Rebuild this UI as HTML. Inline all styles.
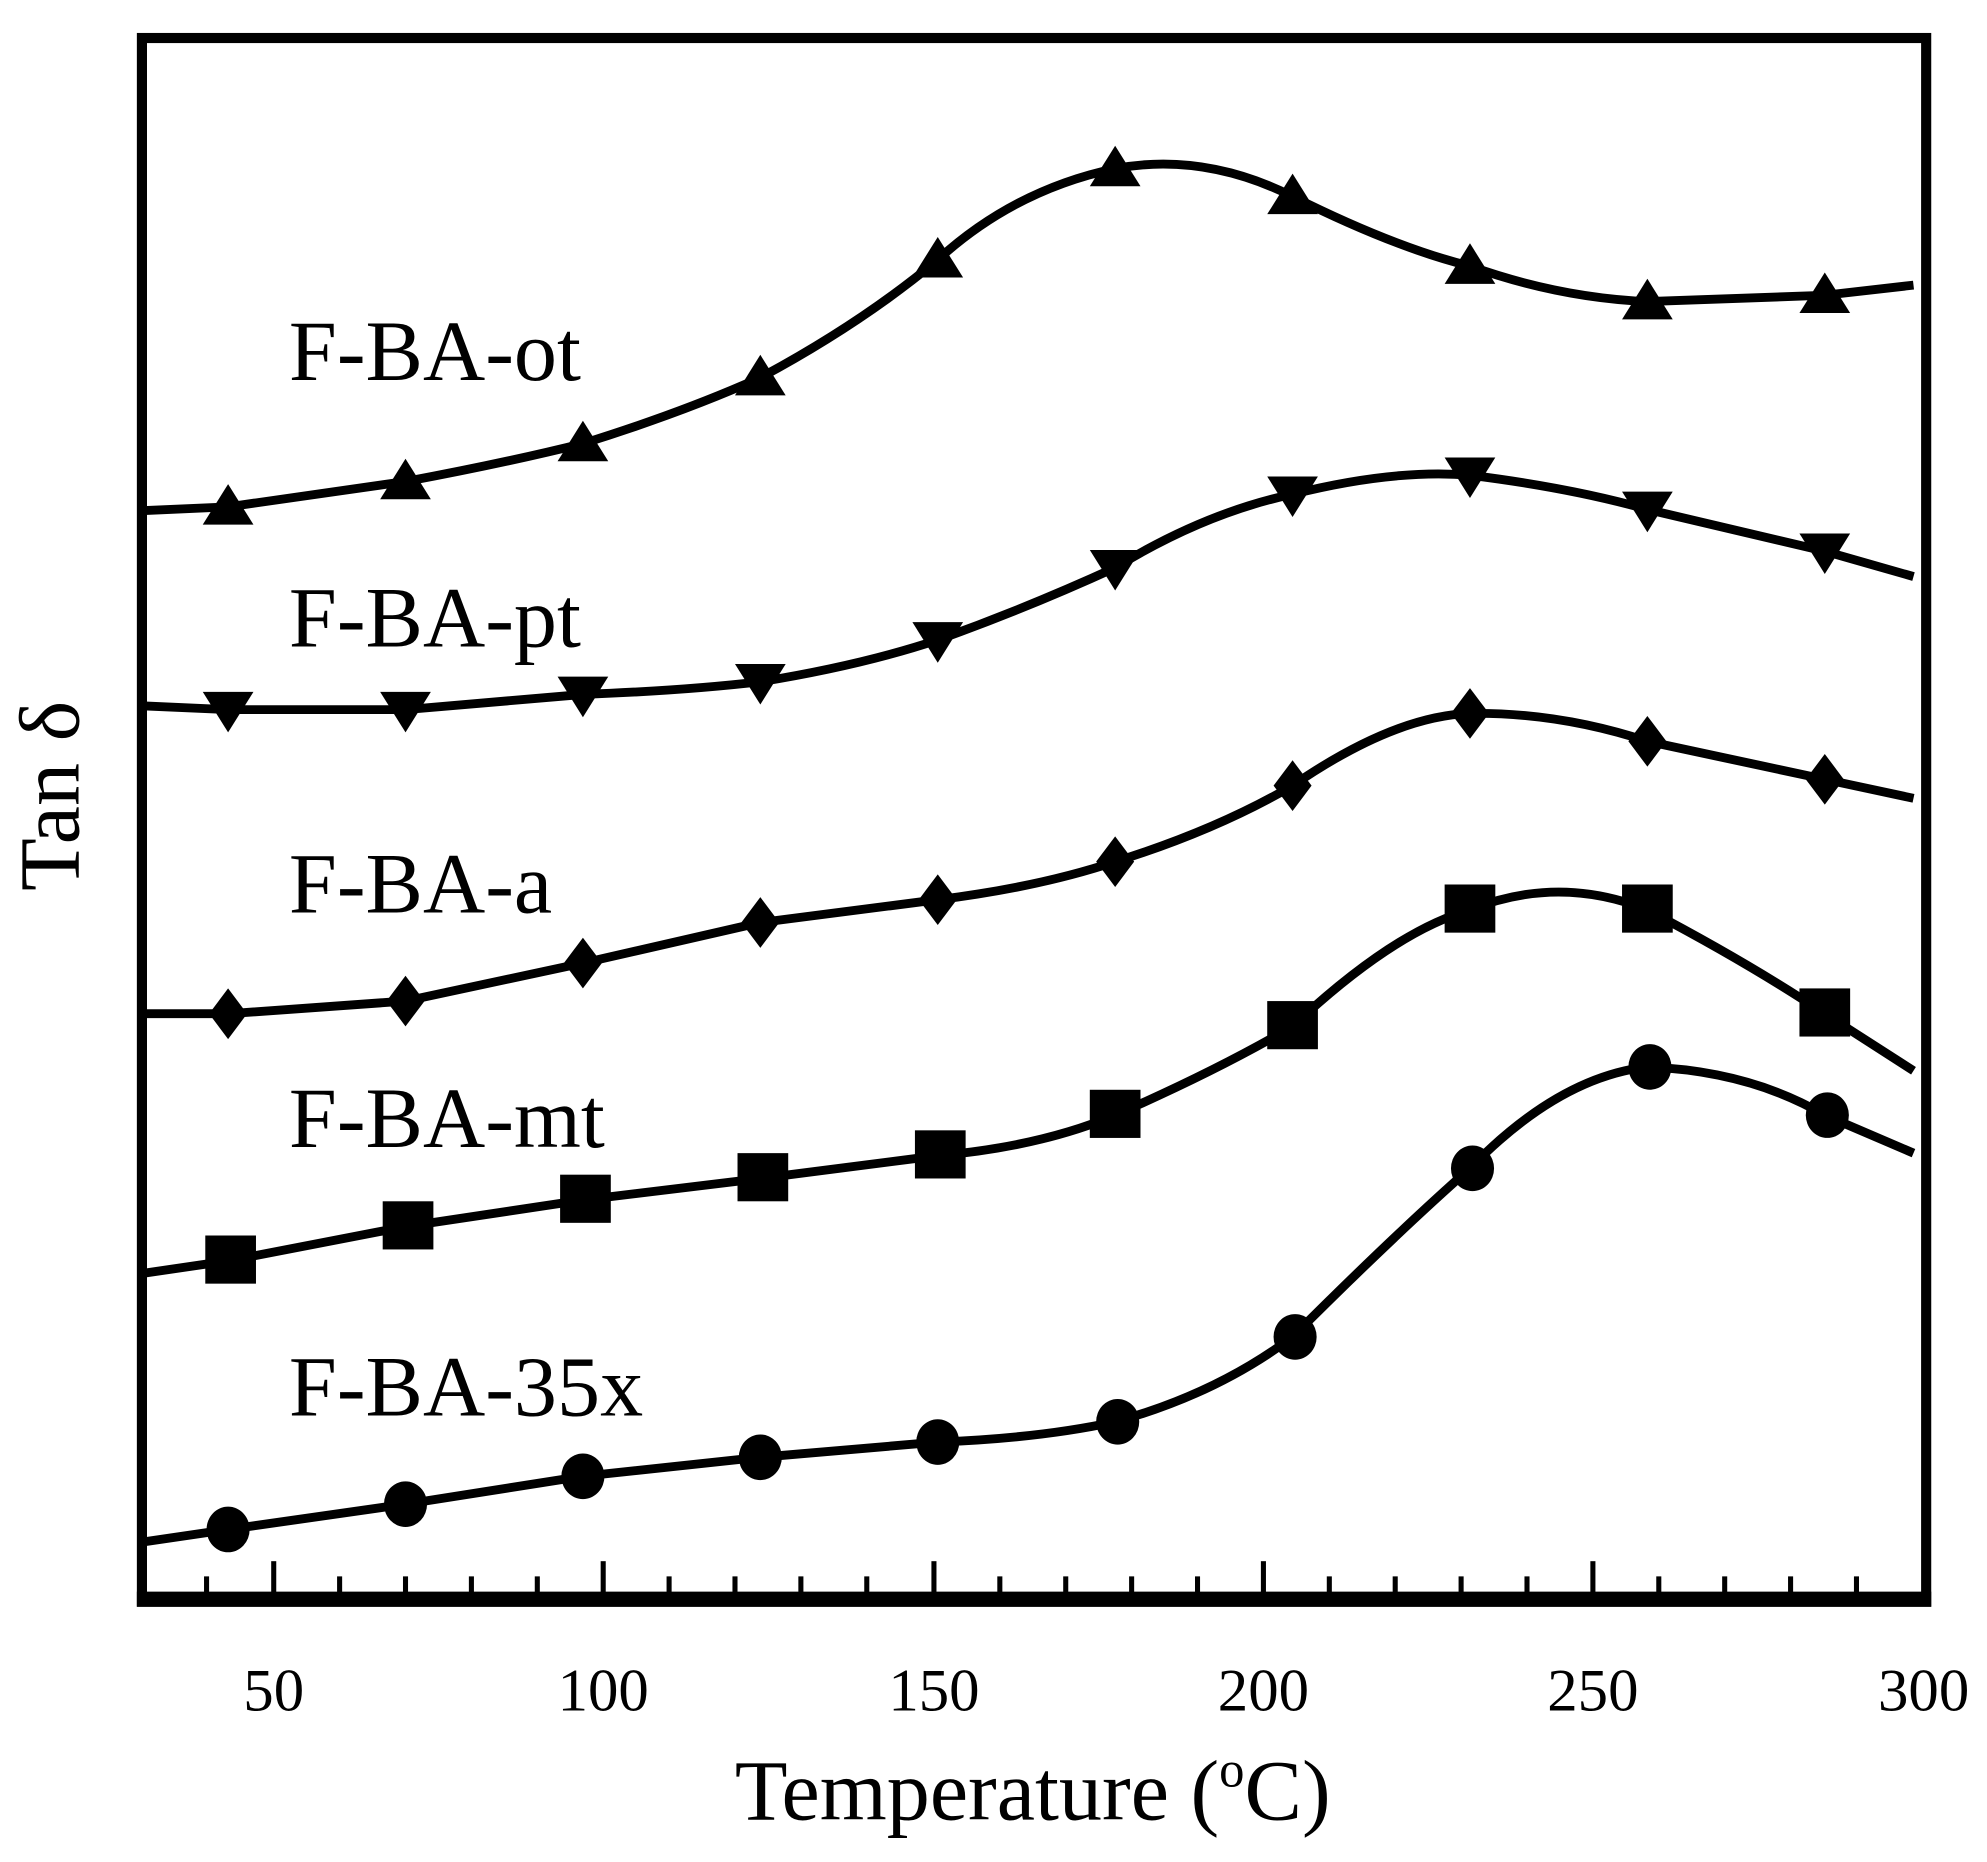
<!DOCTYPE html>
<html><head><meta charset="utf-8"><style>
html,body{margin:0;padding:0;background:#fff;}
svg{display:block;}
text{font-family:"Liberation Serif",serif;fill:#000;}
</style></head><body>
<svg width="1987" height="1862" viewBox="0 0 1568 1469.4" preserveAspectRatio="none" xmlns="http://www.w3.org/2000/svg">
<defs>
<path id="tu" d="M0,-18 L20,14 L-20,14 Z"/>
<path id="td" d="M0,18 L20,-14 L-20,-14 Z"/>
<path id="dm" d="M0,-20 L15,0 L0,20 L-15,0 Z"/>
<rect id="sq" x="-20" y="-20" width="40" height="38"/>
<ellipse id="ci" cx="0" cy="0" rx="17" ry="18"/>
</defs>
<rect x="112" y="30" width="1408" height="1234" fill="none" stroke="#000" stroke-width="8"/>
<line x1="108" y1="1262" x2="1524" y2="1262" stroke="#000" stroke-width="12"/>
<g stroke="#000" stroke-width="4">
<line x1="163" y1="1262" x2="163" y2="1244"/><line x1="216" y1="1262" x2="216" y2="1232"/>
<line x1="268" y1="1262" x2="268" y2="1244"/><line x1="320" y1="1262" x2="320" y2="1244"/>
<line x1="372" y1="1262" x2="372" y2="1244"/><line x1="424" y1="1262" x2="424" y2="1244"/>
<line x1="476" y1="1262" x2="476" y2="1232"/><line x1="528" y1="1262" x2="528" y2="1244"/>
<line x1="580" y1="1262" x2="580" y2="1244"/><line x1="632" y1="1262" x2="632" y2="1244"/>
<line x1="684" y1="1262" x2="684" y2="1244"/><line x1="737" y1="1262" x2="737" y2="1232"/>
<line x1="789" y1="1262" x2="789" y2="1244"/><line x1="841" y1="1262" x2="841" y2="1244"/>
<line x1="893" y1="1262" x2="893" y2="1244"/><line x1="945" y1="1262" x2="945" y2="1244"/>
<line x1="997" y1="1262" x2="997" y2="1232"/><line x1="1049" y1="1262" x2="1049" y2="1244"/>
<line x1="1101" y1="1262" x2="1101" y2="1244"/><line x1="1153" y1="1262" x2="1153" y2="1244"/>
<line x1="1205" y1="1262" x2="1205" y2="1244"/><line x1="1257" y1="1262" x2="1257" y2="1232"/>
<line x1="1309" y1="1262" x2="1309" y2="1244"/><line x1="1361" y1="1262" x2="1361" y2="1244"/>
<line x1="1413" y1="1262" x2="1413" y2="1244"/><line x1="1465" y1="1262" x2="1465" y2="1244"/>
</g>
<g font-size="48" text-anchor="middle">
<text x="216" y="1350">50</text><text x="476" y="1350">100</text><text x="737" y="1350">150</text>
<text x="997" y="1350">200</text><text x="1257" y="1350">250</text><text x="1518" y="1350">300</text>
</g>
<text x="815" y="1436" font-size="68" text-anchor="middle">Temperature (<tspan font-size="40" dy="-26">o</tspan><tspan dy="26">C)</tspan></text>
<text transform="translate(62,628) rotate(-90)" font-size="68" text-anchor="middle">Tan δ</text>
<g font-size="68">
<text x="228" y="300">F-BA-ot</text>
<text x="228" y="510">F-BA-pt</text>
<text x="228" y="720">F-BA-a</text>
<text x="228" y="905">F-BA-mt</text>
<text x="228" y="1117">F-BA-35x</text>
</g>
<g fill="none" stroke="#000" stroke-width="7" stroke-linejoin="round">
<path d="M112,403 L180,400 L320,380 Q400,365 460,350 Q540,325 600,298 Q680,255 740,205 Q800,150 880,133 Q950,120 1020,155 Q1100,195 1160,210 Q1230,235 1300,238 L1440,233 L1510,225"/>
<path d="M112,557 L180,560 L320,560 L460,548 Q540,545 600,538 Q680,525 740,505 Q810,480 880,448 Q950,405 1020,390 Q1100,370 1160,375 Q1240,385 1300,402 L1440,435 L1510,455"/>
<path d="M112,800 L180,800 L320,790 L460,760 L600,728 L740,710 Q820,700 880,680 Q960,655 1020,620 Q1100,565 1160,563 Q1230,562 1300,585 L1440,615 L1510,630"/>
<path d="M112,1005 L180,995 L320,968 L460,947 L600,930 L740,912 Q820,905 880,880 Q960,845 1020,810 Q1100,735 1160,718 Q1230,690 1300,718 Q1380,760 1440,800 L1510,845"/>
<path d="M112,1217 L180,1207 L320,1187 L460,1165 L600,1150 L740,1138 Q820,1135 880,1122 Q960,1100 1020,1055 Q1100,975 1160,922 Q1230,850 1300,842 Q1380,845 1440,880 L1510,910"/>
</g>
<g fill="#000">
<use href="#tu" x="180" y="400"/><use href="#tu" x="320" y="380"/><use href="#tu" x="460" y="350"/><use href="#tu" x="600" y="298"/><use href="#tu" x="740" y="205"/><use href="#tu" x="880" y="133"/><use href="#tu" x="1020" y="155"/><use href="#tu" x="1160" y="210"/><use href="#tu" x="1300" y="238"/><use href="#tu" x="1440" y="233"/>
<use href="#td" x="180" y="560"/><use href="#td" x="320" y="560"/><use href="#td" x="460" y="548"/><use href="#td" x="600" y="538"/><use href="#td" x="740" y="505"/><use href="#td" x="880" y="448"/><use href="#td" x="1020" y="390"/><use href="#td" x="1160" y="375"/><use href="#td" x="1300" y="402"/><use href="#td" x="1440" y="435"/>
<use href="#dm" x="180" y="800"/><use href="#dm" x="320" y="790"/><use href="#dm" x="460" y="760"/><use href="#dm" x="600" y="728"/><use href="#dm" x="740" y="710"/><use href="#dm" x="880" y="680"/><use href="#dm" x="1020" y="620"/><use href="#dm" x="1160" y="563"/><use href="#dm" x="1300" y="585"/><use href="#dm" x="1440" y="615"/>
<use href="#sq" x="182" y="995"/><use href="#sq" x="322" y="968"/><use href="#sq" x="462" y="947"/><use href="#sq" x="602" y="930"/><use href="#sq" x="742" y="912"/><use href="#sq" x="880" y="880"/><use href="#sq" x="1020" y="810"/><use href="#sq" x="1160" y="718"/><use href="#sq" x="1300" y="718"/><use href="#sq" x="1440" y="800"/>
<use href="#ci" x="180" y="1207"/><use href="#ci" x="320" y="1187"/><use href="#ci" x="460" y="1165"/><use href="#ci" x="600" y="1150"/><use href="#ci" x="740" y="1138"/><use href="#ci" x="882" y="1122"/><use href="#ci" x="1022" y="1055"/><use href="#ci" x="1162" y="922"/><use href="#ci" x="1302" y="842"/><use href="#ci" x="1442" y="880"/>
</g>
</svg>
</body></html>
